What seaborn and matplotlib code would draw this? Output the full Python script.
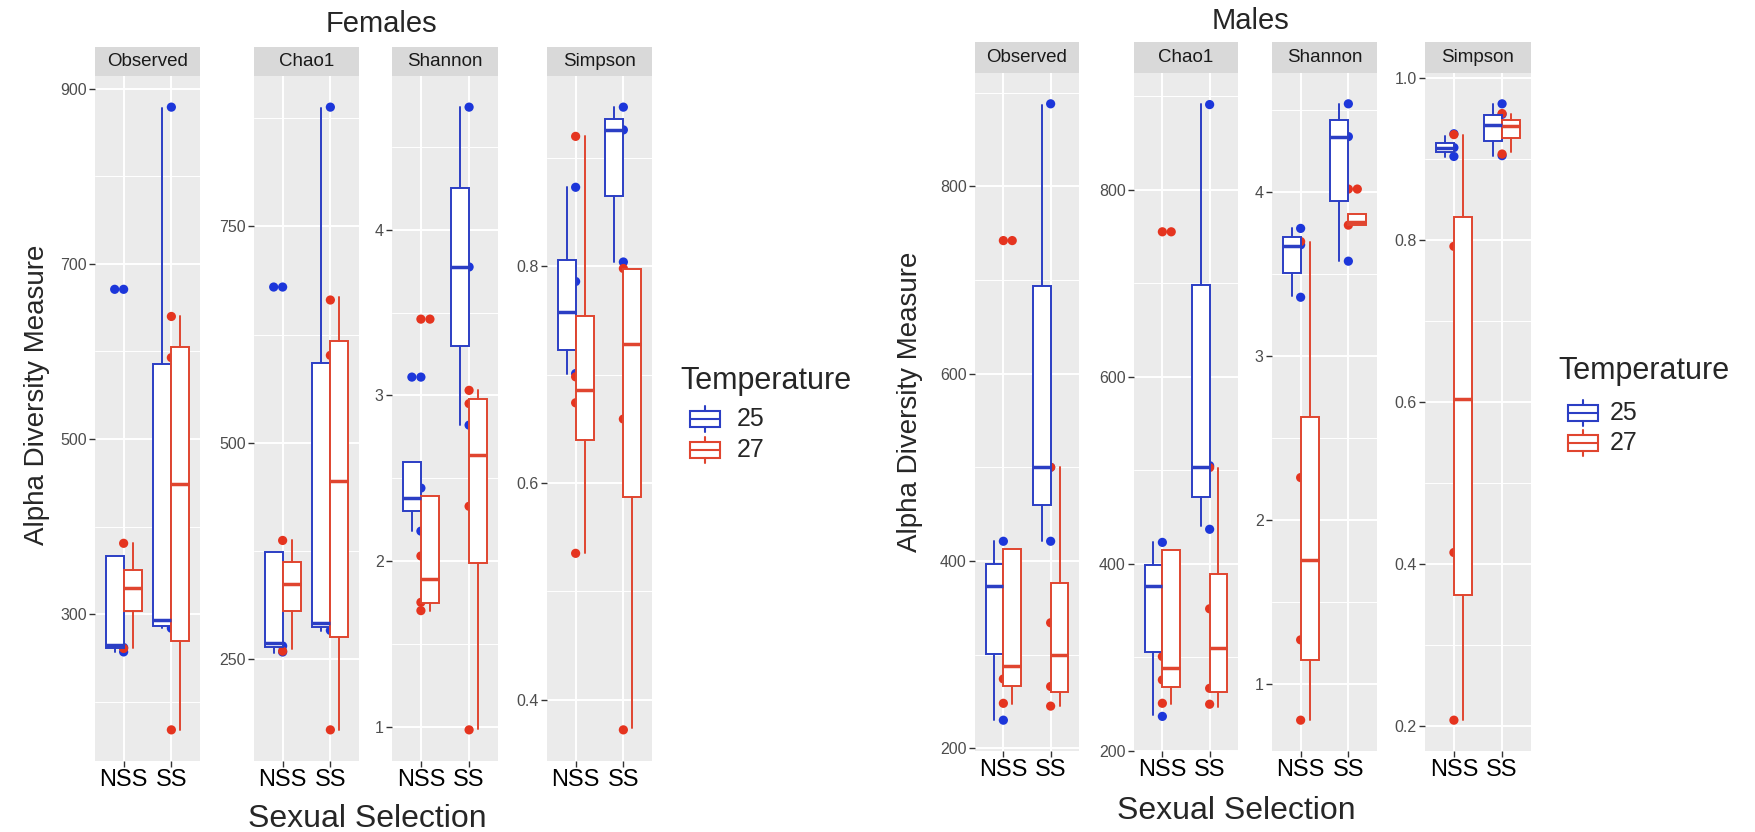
import matplotlib
matplotlib.use("Agg")
import matplotlib.pyplot as plt
import seaborn as sns
import pandas as pd
import numpy as np
from matplotlib.patches import Rectangle

sns.set_theme(style="darkgrid")
plt.rcParams['font.family'] = ['Liberation Sans', 'DejaVu Sans']

# ---------------- data ----------------
categories = ["NSS", "SS"]
temperatures = ["25", "27"]
metrics = ["Observed", "Chao1", "Shannon", "Simpson"]
# group order in each panel: NSS-25, NSS-27, SS-25, SS-27
# box stats: (whisker low, Q1, median, Q3, whisker high)

# Females
F_OBS_BOX = [(257, 262, 265, 366, 366), (261, 304, 330, 350, 381),
             (284, 287, 294, 586, 878), (168, 270, 449, 605, 640)]
F_OBS_OUT = [[671], [], [], []]
F_OBS_PTS = [[671, 262, 257], [381, 261], [879, 284], [640, 593, 168]]

F_CHAO_BOX = [(257, 264, 269, 374, 374), (261, 306, 337, 362, 387),
              (282, 287, 292, 592, 887), (168, 275, 456, 618, 668)]
F_CHAO_OUT = [[680], [], [], []]
F_CHAO_PTS = [[680, 265, 258], [387, 259], [888, 283], [665, 601, 168]]

F_SHAN_BOX = [(2.18, 2.30, 2.38, 2.60, 2.60), (1.70, 1.745, 1.89, 2.39, 2.39),
              (2.82, 3.30, 3.775, 4.25, 4.74), (0.985, 1.99, 2.64, 2.98, 3.03)]
F_SHAN_OUT = [[3.11], [3.46], [], []]
F_SHAN_PTS = [[3.11, 2.44, 2.18], [3.46, 2.03, 1.75, 1.70],
              [4.74, 3.775, 2.82], [3.03, 2.95, 2.33, 0.98]]

F_SIMP_BOX = [(0.701, 0.723, 0.758, 0.806, 0.873), (0.535, 0.640, 0.686, 0.754, 0.920),
              (0.804, 0.865, 0.926, 0.936, 0.947), (0.374, 0.587, 0.728, 0.798, 0.798)]
F_SIMP_OUT = [[], [], [], []]
F_SIMP_PTS = [[0.873, 0.786, 0.701], [0.920, 0.698, 0.674, 0.535],
              [0.947, 0.926, 0.804], [0.798, 0.659, 0.372]]

# Males
M_OBS_BOX = [(230, 301, 373, 397, 421), (247, 267, 288, 413, 413),
             (421, 460, 500, 694, 887), (245, 260, 300, 376, 500)]
M_OBS_OUT = [[], [742], [], []]
M_OBS_PTS = [[421, 230], [742, 274, 248], [888, 500, 421], [500, 334, 266, 245]]

M_CHAO_BOX = [(238, 306, 376, 399, 423), (250, 268, 289, 415, 415),
              (440, 472, 504, 698, 892), (247, 263, 310, 389, 503)]
M_CHAO_OUT = [[], [755], [], []]
M_CHAO_PTS = [[423, 237], [755, 301, 276, 251], [891, 505, 437], [503, 352, 267, 250]]

M_SHAN_BOX = [(3.37, 3.51, 3.67, 3.73, 3.78), (0.78, 1.15, 1.76, 2.63, 3.70),
              (3.58, 3.95, 4.34, 4.44, 4.54), (3.80, 3.80, 3.82, 3.87, 3.87)]
M_SHAN_OUT = [[], [], [], [4.02]]
M_SHAN_PTS = [[3.78, 3.68, 3.36], [3.70, 2.26, 1.27, 0.78],
              [4.54, 4.34, 3.58], [4.02, 3.80]]

M_SIMP_BOX = [(0.902, 0.908, 0.914, 0.920, 0.928), (0.207, 0.362, 0.603, 0.828, 0.930),
              (0.904, 0.922, 0.942, 0.954, 0.968), (0.908, 0.926, 0.940, 0.948, 0.956)]
M_SIMP_OUT = [[], [], [], []]
M_SIMP_PTS = [[0.931, 0.914, 0.903], [0.930, 0.792, 0.414, 0.207],
              [0.968, 0.955, 0.904], [0.956, 0.906]]

F_TICKS = [[300, 500, 700, 900], [250, 500, 750], [1, 2, 3, 4], [0.4, 0.6, 0.8]]
M_TICKS = [[200, 400, 600, 800], [200, 400, 600, 800], [1, 2, 3, 4],
           [0.2, 0.4, 0.6, 0.8, 1.0]]
F_MINOR = [[200, 400, 600, 800], [375, 625, 875], [1.5, 2.5, 3.5, 4.5], [0.5, 0.7, 0.9]]
M_MINOR = [[300, 500, 700, 900], [300, 500, 700, 900], [1.5, 2.5, 3.5, 4.5],
           [0.3, 0.5, 0.7, 0.9]]

# ---------------- style / layout ----------------
W, H = 1756, 832
BOX_COL = {"25": "#2B3EC4", "27": "#E0452F"}
PT_COL = {"25": "#1C36DA", "27": "#E5341F"}

fig = plt.figure(figsize=(W / 100, H / 100), dpi=100)


def px_axes(l, r, t, b):
    return fig.add_axes([l / W, 1 - b / H, (r - l) / W, (b - t) / H])


def draw_panel(l, r, strip_t, panel_t, panel_b, title, boxes, outs, pts, ticks, minor, fmt):
    # strip
    sax = px_axes(l, r, strip_t, panel_t)
    sax.set_facecolor("#D9D9D9")
    sax.set_xticks([]); sax.set_yticks([])
    for s in sax.spines.values():
        s.set_visible(False)
    sax.grid(False)
    sax.text(0.5, 0.5, title, ha="center", va="center", fontsize=13.5,
             color="#1A1A1A", transform=sax.transAxes)

    ax = px_axes(l, r, panel_t, panel_b)
    ax.set_facecolor("#EBEBEB")
    for s in ax.spines.values():
        s.set_visible(False)

    groups = [(c, t) for c in range(len(categories)) for t in temperatures]

    # raw points at category centre (under boxes)
    rows = []
    for (c, t), vals in zip(groups, pts):
        for v in vals:
            rows.append({"x": c, "y": v, "Temperature": t})
    df = pd.DataFrame(rows)
    sns.scatterplot(data=df, x="x", y="y", hue="Temperature", palette=PT_COL,
                    s=44, edgecolor="none", legend=False, zorder=2, ax=ax)

    # boxes (dodged)
    for (c, t), bs, ol in zip(groups, boxes, outs):
        pos = c - 0.1875 if t == "25" else c + 0.1875
        lo, q1, med, q3, hi = bs
        st = [dict(whislo=lo, q1=q1, med=med, q3=q3, whishi=hi, fliers=[])]
        col = BOX_COL[t]
        ax.bxp(st, positions=[pos], widths=0.375, patch_artist=True,
               showfliers=False, showcaps=False, manage_ticks=False,
               boxprops=dict(facecolor="white", edgecolor=col, linewidth=1.4),
               medianprops=dict(color=col, linewidth=2.5),
               whiskerprops=dict(color=col, linewidth=1.4), zorder=3)
        if ol:
            ax.scatter([pos] * len(ol), ol, s=44, color=PT_COL[t],
                       edgecolors="none", zorder=4)

    # limits (ggplot-like 5% expansion)
    allv = [v for b in boxes for v in (b[0], b[4])] + \
           [v for g in pts for v in g] + [v for g in outs for v in g]
    lo_, hi_ = min(allv), max(allv)
    pad = (hi_ - lo_) * 0.05
    ax.set_ylim(lo_ - pad, hi_ + pad)
    ax.set_xlim(-0.6, 1.6)

    ax.set_xticks(range(len(categories)))
    ax.set_xticklabels(categories)
    ax.set_yticks(ticks)
    ax.set_yticklabels([fmt.format(v) for v in ticks])
    ax.set_yticks(minor, minor=True)
    ax.grid(False)
    ax.grid(which="major", color="white", linewidth=1.4, zorder=0)
    ax.grid(which="minor", axis="y", color="white", linewidth=0.7, zorder=0)
    ax.set_axisbelow(True)
    ax.tick_params(axis="y", which="major", length=4, width=1, color="#333333",
                   labelsize=11.5, labelcolor="#4D4D4D", pad=2, left=True)
    ax.tick_params(axis="x", which="major", length=4, width=1, color="#333333",
                   labelsize=17, labelcolor="black", pad=2, bottom=True)
    ax.tick_params(which="minor", length=0)
    ax.set_xlabel(""); ax.set_ylabel("")
    return ax


fmts = ["{:.0f}", "{:.0f}", "{:.0f}", "{:.1f}"]

F_PANELS = [(95, 200), (254, 359), (392, 498), (547, 652)]
M_PANELS = [(975, 1079), (1134, 1238), (1272, 1377), (1425, 1531)]

F_DATA = [(F_OBS_BOX, F_OBS_OUT, F_OBS_PTS), (F_CHAO_BOX, F_CHAO_OUT, F_CHAO_PTS),
          (F_SHAN_BOX, F_SHAN_OUT, F_SHAN_PTS), (F_SIMP_BOX, F_SIMP_OUT, F_SIMP_PTS)]
M_DATA = [(M_OBS_BOX, M_OBS_OUT, M_OBS_PTS), (M_CHAO_BOX, M_CHAO_OUT, M_CHAO_PTS),
          (M_SHAN_BOX, M_SHAN_OUT, M_SHAN_PTS), (M_SIMP_BOX, M_SIMP_OUT, M_SIMP_PTS)]

for i, ((l, r), (b, o, p)) in enumerate(zip(F_PANELS, F_DATA)):
    draw_panel(l, r, 47, 76, 761, metrics[i], b, o, p, F_TICKS[i], F_MINOR[i], fmts[i])
for i, ((l, r), (b, o, p)) in enumerate(zip(M_PANELS, M_DATA)):
    draw_panel(l, r, 42, 73, 751, metrics[i], b, o, p, M_TICKS[i], M_MINOR[i], fmts[i])

# titles and axis labels
fig.text(381 / W, 1 - 24 / H, "Females", ha="center", va="center", fontsize=21)
fig.text(1251 / W, 1 - 21 / H, "Males", ha="center", va="center", fontsize=21)
fig.text(37 / W, 1 - 395 / H, "Alpha Diversity Measure", rotation=90,
         ha="center", va="center", fontsize=20)
fig.text(910 / W, 1 - 402 / H, "Alpha Diversity Measure", rotation=90,
         ha="center", va="center", fontsize=20)
fig.text(367 / W, 1 - 819 / H, "Sexual Selection", ha="center", va="center", fontsize=23)
fig.text(1236 / W, 1 - 811 / H, "Sexual Selection", ha="center", va="center", fontsize=23)

# legends (drawn in pixel coordinates on an overlay)
ov = fig.add_axes([0, 0, 1, 1], facecolor="none")
ov.set_xlim(0, W); ov.set_ylim(H, 0); ov.axis("off")


def legend(x_title, y_title, x_key, y_keys, x_lab):
    ov.text(x_title, y_title, "Temperature", ha="left", va="center", fontsize=22)
    for t, yk in zip(temperatures, y_keys):
        col = BOX_COL[t]
        ov.add_patch(Rectangle((x_key, yk - 8), 30, 16, facecolor="white",
                               edgecolor=col, linewidth=1.5))
        ov.plot([x_key, x_key + 30], [yk, yk], color=col, lw=1.5)
        ov.plot([x_key + 15, x_key + 15], [yk - 13, yk - 8], color=col, lw=1.5)
        ov.plot([x_key + 15, x_key + 15], [yk + 8, yk + 13], color=col, lw=1.5)
        ov.text(x_lab, yk, t, ha="left", va="center", fontsize=18)


legend(680, 381, 690, [419, 450], 737)
legend(1558, 371, 1568, [413, 443], 1610)

fig.savefig("out.png", dpi=100, facecolor="white")
